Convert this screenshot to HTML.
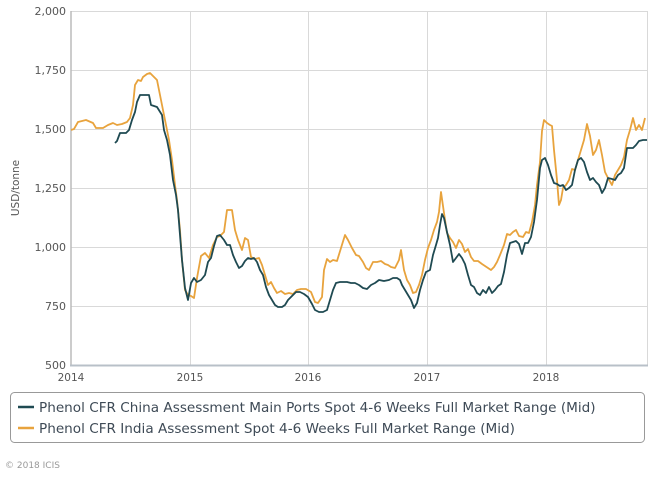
<!DOCTYPE html>
<html><head><meta charset="utf-8"><style>
html,body{margin:0;padding:0;background:#fff;}
body{width:668px;height:478px;overflow:hidden;font-family:"DejaVu Sans","Liberation Sans",sans-serif;}
</style></head><body>
<svg width="668" height="478" xmlns="http://www.w3.org/2000/svg" style="position:absolute;left:0;top:0">
<g stroke="#d9d9d9" stroke-width="1">
<line x1="71" y1="11.5" x2="648" y2="11.5"/>
<line x1="71" y1="70.5" x2="648" y2="70.5"/>
<line x1="71" y1="129.5" x2="648" y2="129.5"/>
<line x1="71" y1="188.5" x2="648" y2="188.5"/>
<line x1="71" y1="247.5" x2="648" y2="247.5"/>
<line x1="71" y1="306.5" x2="648" y2="306.5"/>
<line x1="190.5" y1="11" x2="190.5" y2="365"/>
<line x1="308.5" y1="11" x2="308.5" y2="365"/>
<line x1="427.5" y1="11" x2="427.5" y2="365"/>
<line x1="546.5" y1="11" x2="546.5" y2="365"/>
<line x1="647.5" y1="11" x2="647.5" y2="365"/>
</g>
<line x1="71" y1="11" x2="71" y2="366" stroke="#bbb" stroke-width="1.5"/>
<line x1="70" y1="365.5" x2="648" y2="365.5" stroke="#b8c0c8" stroke-width="2"/>
<g font-size="11" fill="#555" text-anchor="end">
<text x="66" y="15">2,000</text><text x="66" y="74">1,750</text><text x="66" y="133">1,500</text>
<text x="66" y="192">1,250</text><text x="66" y="251">1,000</text><text x="66" y="310">750</text><text x="66" y="369">500</text>
</g>
<g font-size="10.5" fill="#555" text-anchor="middle">
<text x="71" y="381">2014</text><text x="190" y="381">2015</text><text x="308" y="381">2016</text><text x="427" y="381">2017</text><text x="546" y="381">2018</text>
</g>
<text transform="translate(19,188) rotate(-90)" font-size="10.5" fill="#555" text-anchor="middle">USD/tonne</text>
<polyline fill="none" stroke="#e8a33d" stroke-width="1.8" stroke-linejoin="round" points="71,130 74,129 78,122 86,120 93,123 96,128 103,128 108,125 113,123 117,125 122,124 127,122 130,118 133,105 135,85 138,80 141,81 143,77 147,74 150,73 153,76 157,80 161,100 165,120 169,140 172,160 175,185 177,200 180,230 182,260 185,290 188,295 191,296 194,298 197,278 201,256 205,253 209,258 213,245 217,237 220,236 224,232 227,210 230,210 232,210 235,230 238,240 242,250 245,238 248,240 251,257 255,259 259,258 262,265 265,275 268,285 271,282 274,288 277,293 281,291 285,294 289,293 293,294 297,290 301,289 306,289 311,292 315,302 318,303 322,297 324,270 327,259 330,262 333,260 337,261 341,248 345,235 348,240 352,248 356,255 359,256 363,262 366,268 369,270 373,262 377,262 381,261 385,264 388,265 391,267 395,268 399,260 401,250 404,270 407,280 410,285 413,293 416,292 419,285 422,275 425,260 428,248 431,240 434,230 437,222 439,212 441,192 444,213 447,233 450,238 453,242 456,248 459,240 462,244 465,252 468,249 471,257 474,261 478,261 482,264 485,266 488,268 491,270 494,267 497,262 500,255 504,245 507,234 510,235 513,232 516,230 519,236 523,237 526,232 529,233 532,222 535,205 537,185 540,162 542,131 544,120 547,123 550,125 552,126 554,150 557,180 559,205 561,200 563,188 566,185 569,180 572,169 575,170 578,160 581,150 584,140 587,124 590,136 593,155 596,150 599,140 602,155 605,172 608,178 612,185 615,175 618,170 621,165 624,157 627,140 630,130 633,118 636,130 639,125 642,130 645,118"/>
<polyline fill="none" stroke="#1f4a52" stroke-width="1.8" stroke-linejoin="round" points="115,143 117,141 120,133 126,133 129,130 132,120 135,112 137,102 140,95 149,95 151,105 157,107 162,115 164,130 167,140 170,155 173,180 176,195 178,210 180,235 182,260 185,288 188,300 191,283 194,278 197,282 201,280 205,275 208,262 211,258 214,246 217,236 220,235 224,240 227,245 230,245 233,255 236,262 239,268 242,266 245,261 248,258 251,259 254,258 257,262 260,270 263,275 266,287 269,295 272,300 275,305 278,307 282,307 285,305 288,300 292,296 296,292 300,292 304,294 308,297 312,304 315,310 319,312 323,312 327,310 330,300 333,290 336,283 340,282 343,282 347,282 351,283 355,283 359,285 363,288 367,289 371,285 375,283 379,280 384,281 389,280 393,278 397,278 400,280 402,285 405,290 408,295 411,300 414,308 417,303 420,290 423,280 426,272 430,270 433,255 436,245 438,238 440,225 442,214 444,218 447,232 450,245 453,262 456,258 459,254 462,258 465,264 468,275 471,285 474,287 477,293 480,295 483,290 486,293 489,287 492,293 495,290 498,286 501,284 504,272 507,255 510,243 513,242 516,241 519,244 522,254 525,243 528,243 531,237 534,222 537,200 540,168 542,160 545,158 548,165 551,175 554,183 557,184 560,186 563,185 566,190 569,188 572,185 575,170 578,160 581,158 584,162 587,172 590,180 593,178 596,182 599,185 602,193 605,188 608,178 612,179 615,180 618,175 621,173 624,168 627,148 630,148 633,148 636,145 639,141 643,140 647,140"/>
<rect x="10.5" y="392.5" width="634" height="50" rx="4" fill="none" stroke="#999" stroke-width="1"/>
<line x1="18" y1="407" x2="34" y2="407" stroke="#1f4a52" stroke-width="2.5"/>
<line x1="18" y1="428" x2="34" y2="428" stroke="#e8a33d" stroke-width="2.5"/>
<g font-size="13.6" fill="#3e4a56">
<text x="39" y="412">Phenol CFR China Assessment Main Ports Spot 4-6 Weeks Full Market Range (Mid)</text>
<text x="39" y="433">Phenol CFR India Assessment Spot 4-6 Weeks Full Market Range (Mid)</text>
</g>
<text x="5" y="468" font-size="9" fill="#999">© 2018 ICIS</text>
</svg>
</body></html>
